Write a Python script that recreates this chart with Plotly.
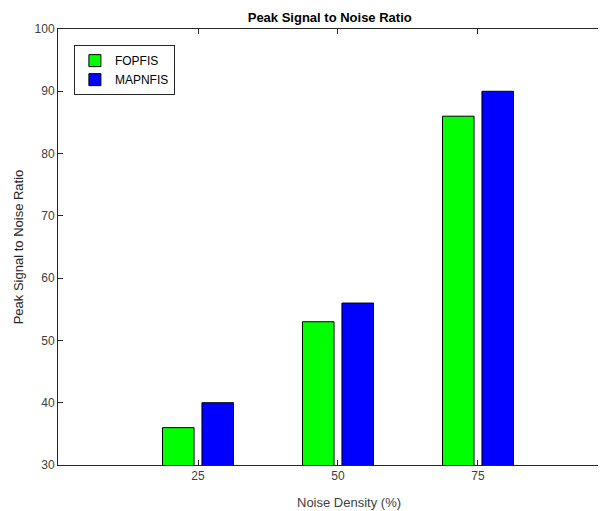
import plotly.graph_objects as go

noise_density = [25, 50, 75]
fopfis = [36, 53, 86]
mapnfis = [40, 56, 90]
series_names = ["FOPFIS", "MAPNFIS"]
y_ticks = [30, 40, 50, 60, 70, 80, 90, 100]

FONT = "Liberation Sans, Arial, sans-serif"
AX = "#262626"

fig = go.Figure()
fig.add_trace(go.Bar(x=noise_density, y=fopfis, name=series_names[0],
                     marker=dict(color="#00FF00", line=dict(color="#000000", width=1))))
fig.add_trace(go.Bar(x=noise_density, y=mapnfis, name=series_names[1],
                     marker=dict(color="#0000FF", line=dict(color="#000000", width=1))))

# page body has an 8px margin, so the figure is sized 8px smaller
fig.update_layout(
    width=598, height=503,
    margin=dict(l=50, r=0, t=21, b=46, autoexpand=False),
    paper_bgcolor="white", plot_bgcolor="white",
    barmode="group", bargap=0.436, bargroupgap=0.2,
    font=dict(family=FONT, size=12, color="#404040"),
    title=dict(text="<b>Peak Signal to Noise Ratio</b>", x=0.538, xanchor="center",
               y=0.982, yanchor="middle", font=dict(family=FONT, size=13, color="#000000")),
    showlegend=True,
    legend=dict(x=0.029, y=0.963, xanchor="left", yanchor="top",
                bordercolor=AX, borderwidth=1, bgcolor="white",
                font=dict(family=FONT, size=12, color="#000000"),
                tracegroupgap=0, itemwidth=30),
    xaxis=dict(range=[0, 97.86], tickvals=noise_density, ticktext=[str(v) for v in noise_density],
               ticks="inside", ticklen=5, tickcolor=AX, showline=True, linecolor=AX, linewidth=1,
               mirror="ticks", showgrid=False, zeroline=False, automargin=False),
    yaxis=dict(range=[30, 100], tickvals=y_ticks, ticks="inside", ticklen=5, tickcolor=AX,
               showline=True, linecolor=AX, linewidth=1, showgrid=False, zeroline=False,
               automargin=False,
               title=dict(text="Peak Signal to Noise Ratio", font=dict(size=13, color="#262626"), standoff=8)),
    annotations=[dict(text="Noise Density (%)", xref="paper", yref="paper", x=0.531, y=-0.087,
                      xanchor="center", yanchor="middle", showarrow=False,
                      font=dict(family=FONT, size=13, color="#404040"))],
)

fig.write_html("out.html")
